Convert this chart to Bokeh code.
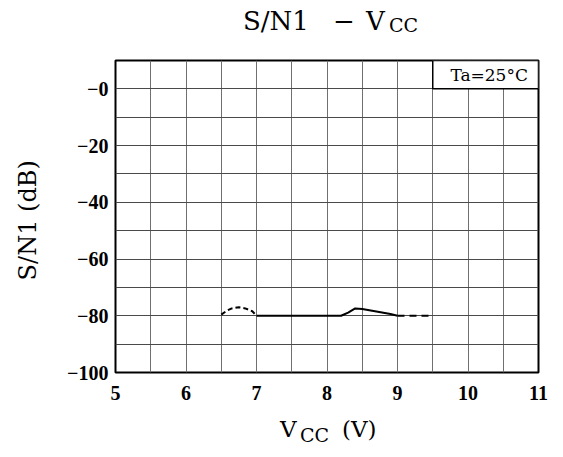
import numpy as np
from bokeh.plotting import figure
from bokeh.layouts import column
from bokeh.models import FixedTicker, Label, Range1d, Div
from bokeh.embed import file_html
from bokeh.resources import INLINE

# ---- data ----
x_ticks = [5, 6, 7, 8, 9, 10, 11]
x_tick_labels = ["5", "6", "7", "8", "9", "10", "11"]
y_ticks = [-100, -80, -60, -40, -20, 0]
y_tick_labels = ["\u2212100", "\u221280", "\u221260", "\u221240", "\u221220", "\u22120"]

dash1_vcc = [6.5, 6.58, 6.65, 6.75, 6.84, 6.94, 7.0]
dash1_sn = [-79.6, -78.2, -77.4, -77.0, -77.4, -78.4, -80.0]

solid_vcc = [7.0, 8.2, 8.3, 8.4, 8.5, 8.7, 8.9, 9.0]
solid_sn = [-80.0, -80.0, -78.9, -77.4, -77.6, -78.5, -79.4, -80.0]

dash2_vcc = [9.0, 9.5]
dash2_sn = [-80.0, -80.0]

title_main = "S/N1"
title_dash = "&minus;"
x_label_main = "V"
x_label_sub = "CC"
x_label_unit = "(V)"
y_label = "S/N1  (dB)"
cond_text = "Ta=25\u00b0C"

SERIF = "DejaVu Serif"
TICKF = "Liberation Serif"
W = 555

p = figure(width=W, height=364,
           x_range=Range1d(5, 11), y_range=Range1d(-100, 10),
           output_backend="svg", toolbar_location=None,
           min_border_left=115, min_border_right=17,
           min_border_top=12, min_border_bottom=40)

p.background_fill_color = "white"
p.border_fill_color = "white"
p.outline_line_color = "black"
p.outline_line_width = 2

# grid
p.xgrid.ticker = FixedTicker(ticks=list(np.arange(5.5, 11.0, 0.5)))
p.ygrid.ticker = FixedTicker(ticks=list(np.arange(-90, 10, 10)))
p.xgrid.grid_line_color = "#707070"
p.ygrid.grid_line_color = "#4a4a4a"
for g in (p.xgrid, p.ygrid):
    g.grid_line_width = 1

# axes
p.xaxis.ticker = FixedTicker(ticks=x_ticks)
p.yaxis.ticker = FixedTicker(ticks=y_ticks)
p.xaxis.major_label_overrides = dict(zip(x_ticks, x_tick_labels))
p.yaxis.major_label_overrides = dict(zip(y_ticks, y_tick_labels))
for ax in (p.xaxis, p.yaxis):
    ax.axis_line_color = None
    ax.major_tick_line_color = None
    ax.minor_tick_line_color = None
    ax.major_tick_out = 0
    ax.major_tick_in = 0
    ax.major_label_text_font = TICKF
    ax.major_label_text_font_style = "bold"
    ax.major_label_text_font_size = "20px"
    ax.major_label_text_color = "black"
p.xaxis.major_label_standoff = 13
p.yaxis.major_label_standoff = 7

p.yaxis.axis_label = y_label
p.yaxis.axis_label_text_font = SERIF
p.yaxis.axis_label_text_font_style = "normal"
p.yaxis.axis_label_text_font_size = "24px"
p.yaxis.axis_label_standoff = 22
p.yaxis.axis_label_text_color = "black"

# condition box (covers grid in top-right cells)
p.quad(left=[9.5], right=[11], bottom=[0], top=[10],
       fill_color="white", line_color="black", line_width=1.5)

# curves
p.line(dash1_vcc, dash1_sn, line_color="black", line_width=2, line_dash="5 3")
p.line(solid_vcc, solid_sn, line_color="black", line_width=2)
p.line(dash2_vcc, dash2_sn, line_color="black", line_width=2, line_dash="7 5")

# condition text
p.add_layout(Label(x=10.30, y=5.0, text=cond_text, text_font=SERIF,
                   text_font_size="17px", text_align="center",
                   text_baseline="middle", text_color="black"))


def span(text, left, top, size):
    return ('<span style="position:absolute;white-space:nowrap;line-height:normal;'
            f'left:{left}px;top:{top}px;font-size:{size}px">{text}</span>')


def box(inner, h):
    return (f'<div style="position:relative;width:{W}px;height:{h}px;'
            f'font-family:\'{SERIF}\';color:black">{inner}</div>')


title_html = box(
    span(title_main, 243, 6, 26)
    + span(title_dash, 333, 6, 26)
    + span(x_label_main, 366, 6, 26)
    + span(x_label_sub, 389, 14, 19), 48)

xlab_html = box(
    span(x_label_main, 280, 4, 23)
    + span(x_label_sub, 300, 12, 19)
    + span(x_label_unit, 342, 4, 23), 37)

title_div = Div(text=title_html, width=W, height=48, margin=0)
xlab_div = Div(text=xlab_html, width=W, height=37, margin=0)

layout = column(title_div, p, xlab_div, spacing=0)

open("out.html", "w").write(file_html(layout, INLINE))
